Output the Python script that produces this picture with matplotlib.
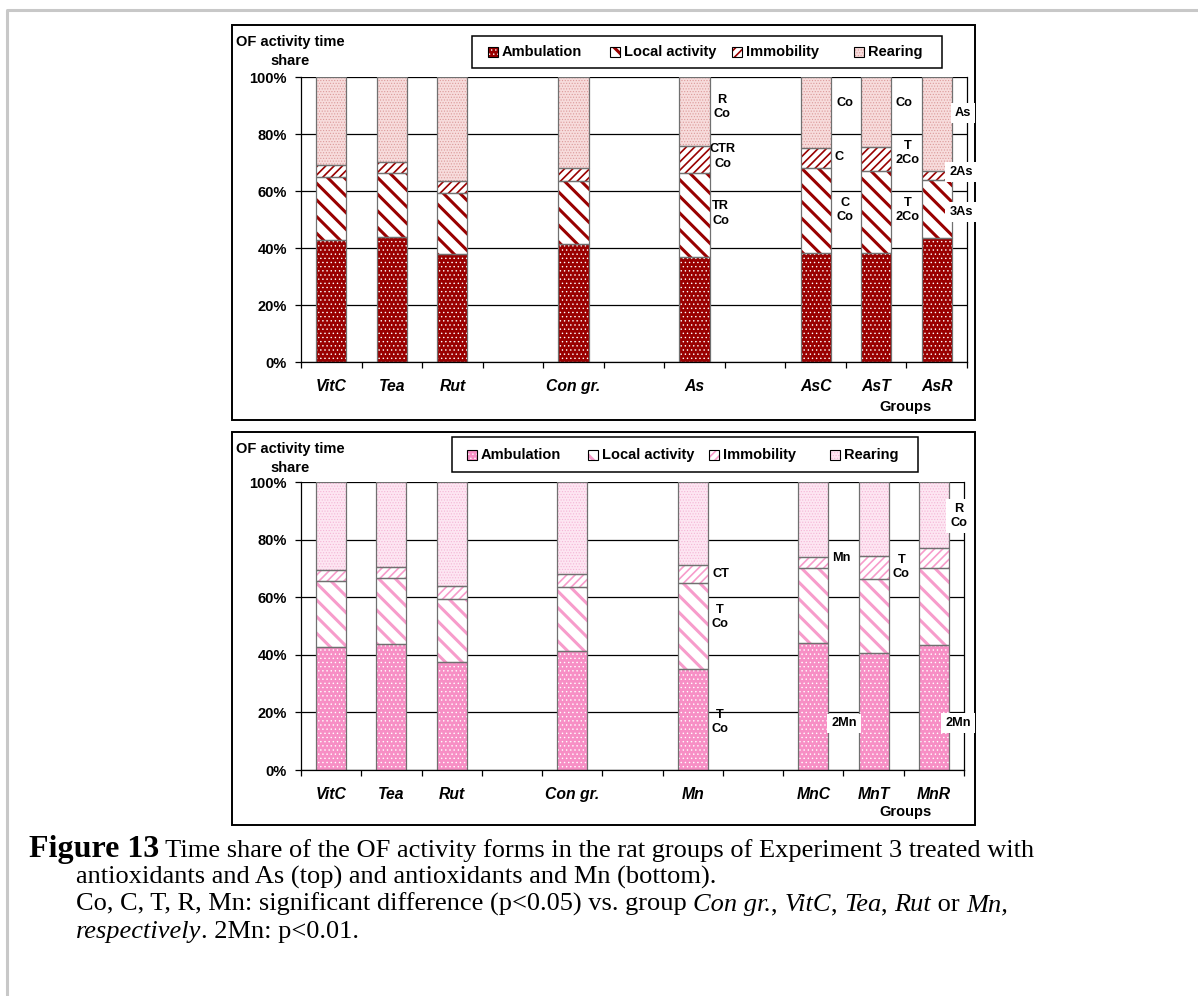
import numpy as np
import matplotlib
matplotlib.use("Agg")
import matplotlib.pyplot as plt
from matplotlib.patches import Rectangle
from matplotlib.lines import Line2D
from matplotlib.ticker import PercentFormatter, FixedLocator

plt.rcParams["font.family"] = ["Liberation Sans", "DejaVu Sans"]

W, H, DPI = 1198, 996, 100

# ---------------------------------------------------------------- data
series_names = ["Ambulation", "Local activity", "Immobility", "Rearing"]

groups_as = ["VitC", "Tea", "Rut", "", "Con gr.", "", "As", "", "AsC", "AsT", "AsR"]
groups_mn = ["VitC", "Tea", "Rut", "", "Con gr.", "", "Mn", "", "MnC", "MnT", "MnR"]

# time share (%) of each activity form; empty slots are None
ambulation_as = [42.8, 44.0, 37.8, None, 41.4, None, 36.7, None, 38.1, 38.1, 43.4]
local_as      = [22.2, 22.4, 21.6, None, 22.2, None, 29.5, None, 29.9, 29.0, 20.5]
immobility_as = [4.1, 3.9, 4.2, None, 4.4, None, 9.6, None, 7.0, 8.5, 3.2]
rearing_as    = [30.9, 29.7, 36.4, None, 32.0, None, 24.2, None, 25.0, 24.4, 32.9]

ambulation_mn = [42.6, 43.8, 37.6, None, 41.4, None, 35.1, None, 44.2, 40.7, 43.5]
local_mn      = [23.0, 22.8, 21.9, None, 22.2, None, 29.7, None, 25.8, 25.5, 26.5]
immobility_mn = [3.8, 4.0, 4.5, None, 4.4, None, 6.4, None, 3.8, 8.2, 7.2]
rearing_mn    = [30.6, 29.4, 36.0, None, 32.0, None, 28.8, None, 26.2, 25.6, 22.8]

# significance marks: (x position, y level %, text, white background)
notes_as = [
    (6.45, 89.5, "R\nCo", False), (6.47, 72.1, "CTR\nCo", False),
    (6.43, 52.1, "TR\nCo", False),
    (8.49, 90.9, "Co", False), (8.38, 71.9, "C", False), (8.49, 53.3, "C\nCo", False),
    (9.46, 90.9, "Co", False), (9.52, 73.3, "T\n2Co", False), (9.52, 53.3, "T\n2Co", False),
    (10.44, 87.4, "As", True), (10.40, 66.7, "2As", True), (10.40, 52.6, "3As", True),
]
notes_mn = [
    (6.47, 68.0, "CT", False), (6.45, 53.1, "T\nCo", False), (6.45, 16.7, "T\nCo", False),
    (8.46, 73.5, "Mn", False), (8.51, 16.2, "2Mn", True),
    (9.46, 70.5, "T\nCo", False),
    (10.41, 88.2, "R\nCo", True), (10.40, 16.3, "2Mn", True),
]

y_ticks = [0, 20, 40, 60, 80, 100]

# fill colour, hatch colour, hatch, hatch line width for each activity form
palette_as = [
    ("#990000", "white", "....", 0.5),
    ("white", "#990000", "\\\\", 2.2),
    ("white", "#990000", "////", 1.2),
    ("#f7dcdc", "#dc9a9a", "......", 0.5),
]
palette_mn = [
    ("#f78fc5", "white", "....", 0.5),
    ("white", "#f79ccb", "\\\\", 2.2),
    ("white", "#f79ccb", "////", 1.2),
    ("#fde6f2", "#f5b5d6", "......", 0.5),
]

# ---------------------------------------------------------------- figure
fig = plt.figure(figsize=(W / DPI, H / DPI), dpi=DPI)
fig.patch.set_facecolor("white")

# page layer in pixel units (origin top-left)
ov = fig.add_axes([0, 0, 1, 1])
ov.set_xlim(0, W)
ov.set_ylim(H, 0)
ov.axis("off")


def px_rect(left, top, right, bottom):
    return [left / W, 1 - bottom / H, (right - left) / W, (bottom - top) / H]


def hatch_lw(artist, lw):
    """Give the artist its own hatch line width."""
    if hasattr(artist, "set_hatch_linewidth"):
        artist.set_hatch_linewidth(lw)
    base = artist.draw

    def draw(renderer):
        with plt.rc_context({"hatch.linewidth": lw}):
            base(renderer)

    artist.draw = draw
    return artist


# page border
ov.add_line(Line2D([7, 7, W], [H, 10, 10], color="#c8c8c8", lw=2.2))

BOLD = 10.5


def draw_chart(frame, axbox, legbox, labels, data, palette, notes):
    fl, ft, fr, fb = frame
    ov.add_patch(Rectangle((fl, ft), fr - fl, fb - ft, fill=False,
                           ec="black", lw=1.4, zorder=1))

    ax = fig.add_axes(px_rect(*axbox))
    ax.set_xlim(-0.5, len(labels) - 0.5)
    ax.set_ylim(0, 100)
    ax.set_axisbelow(True)
    ax.yaxis.grid(True, color="black", lw=0.9)
    for s in ax.spines.values():
        s.set_color("black")
        s.set_linewidth(0.9)
    ax.spines["top"].set_visible(False)

    idx = [i for i, g in enumerate(labels) if g]
    bottom = np.zeros(len(idx))
    for vals, (face, hcol, hatch, hlw) in zip(data, palette):
        v = np.array([vals[i] for i in idx], dtype=float)
        with plt.rc_context({"hatch.linewidth": hlw}):
            bars = ax.bar(idx, v, 0.5, bottom=bottom, color=face,
                          edgecolor=hcol, linewidth=0, hatch=hatch, zorder=2)
        for p in bars:
            hatch_lw(p, hlw)
        ax.bar(idx, v, 0.5, bottom=bottom, fill=False,
               edgecolor="#707070", linewidth=0.9, zorder=2.1)
        bottom += v

    ax.yaxis.set_major_locator(FixedLocator(y_ticks))
    ax.yaxis.set_major_formatter(PercentFormatter(decimals=0))
    ax.tick_params(axis="y", length=4, width=0.9, pad=6, labelsize=BOLD)
    for t in ax.get_yticklabels():
        t.set_fontweight("bold")

    ax.set_xticks(range(len(labels)))
    ax.set_xticklabels(labels, fontsize=11.3, fontweight="bold", fontstyle="italic")
    ax.set_xticks(np.arange(-0.5, len(labels)), minor=True)
    ax.tick_params(axis="x", which="major", length=0, pad=12)
    ax.tick_params(axis="x", which="minor", length=4, width=0.9)

    for x, y, s, boxed in notes:
        kw = {}
        if boxed:
            kw["bbox"] = dict(boxstyle="square,pad=0.3", fc="white", ec="none")
        ax.text(x, y, s, ha="center", va="center", ma="center", fontsize=9.2,
                fontweight="bold", linespacing=1.3, zorder=5, **kw)

    # axis captions
    ov.text(290, ft + 17, "OF activity time", ha="center", va="center",
            fontsize=BOLD, fontweight="bold")
    ov.text(290, ft + 36, "share", ha="center", va="center",
            fontsize=BOLD, fontweight="bold")
    ov.text(905, fb - 13, "Groups", ha="center", va="center",
            fontsize=BOLD, fontweight="bold")

    # legend
    ll, lt, lr, lb, x_first, step = legbox
    ov.add_patch(Rectangle((ll, lt), lr - ll, lb - lt, fill=False,
                           ec="black", lw=1.1, zorder=1))
    yc = (lt + lb) / 2
    for k, (name, (face, hcol, hatch, hlw)) in enumerate(zip(series_names, palette)):
        x0 = x_first + k * step
        with plt.rc_context({"hatch.linewidth": hlw}):
            sw = Rectangle((x0, yc - 5), 10, 10, fc=face, ec=hcol, lw=0,
                           hatch=hatch, zorder=2)
        ov.add_patch(hatch_lw(sw, hlw))
        ov.add_patch(Rectangle((x0, yc - 5), 10, 10, fill=False,
                               ec="black", lw=0.8, zorder=3))
        ov.text(x0 + 14, yc, name, ha="left", va="center",
                fontsize=BOLD, fontweight="bold")
    return ax


draw_chart((232, 25, 975, 420), (301, 77, 967, 362),
           (472, 36, 942, 68, 488, 122),
           groups_as, [ambulation_as, local_as, immobility_as, rearing_as],
           palette_as, notes_as)

draw_chart((232, 432, 975, 825), (301, 482, 964, 770),
           (452, 437, 918, 472, 467, 121),
           groups_mn, [ambulation_mn, local_mn, immobility_mn, rearing_mn],
           palette_mn, notes_mn)

# ---------------------------------------------------------------- caption
renderer = fig.canvas.get_renderer()
SERIF = "Liberation Serif"


def seg_width(s, size, **kw):
    a = ov.text(0, 0, "X" + s + "X", fontsize=size, family=SERIF, **kw)
    b = ov.text(0, 0, "XX", fontsize=size, family=SERIF, **kw)
    w = a.get_window_extent(renderer).width - b.get_window_extent(renderer).width
    a.remove()
    b.remove()
    return w


def rich_line(x, y, parts):
    for s, size, weight, style in parts:
        kw = dict(fontweight=weight, fontstyle=style)
        ov.text(x, y, s, fontsize=size, family=SERIF,
                ha="left", va="baseline", **kw)
        x += seg_width(s, size, **kw)


C = 19
N, B, I = "normal", "bold", "italic"
rich_line(29, 857, [("Figure 13", 23, B, N),
                    (" Time share of the OF activity forms in the rat groups of Experiment 3 treated with", C, N, N)])
rich_line(76, 884, [("antioxidants and As (top) and antioxidants and Mn (bottom).", C, N, N)])
rich_line(76, 911, [("Co, C, T, R, Mn: significant difference (p<0.05) vs. group ", C, N, N),
                    ("Con gr.", C, N, I), (", ", C, N, N), ("VitC", C, N, I), (", ", C, N, N),
                    ("Tea", C, N, I), (", ", C, N, N), ("Rut", C, N, I), (" or ", C, N, N),
                    ("Mn,", C, N, I)])
rich_line(76, 938, [("respectively", C, N, I), (". 2Mn: p<0.01.", C, N, N)])

fig.savefig("out.png", dpi=DPI, facecolor="white")
